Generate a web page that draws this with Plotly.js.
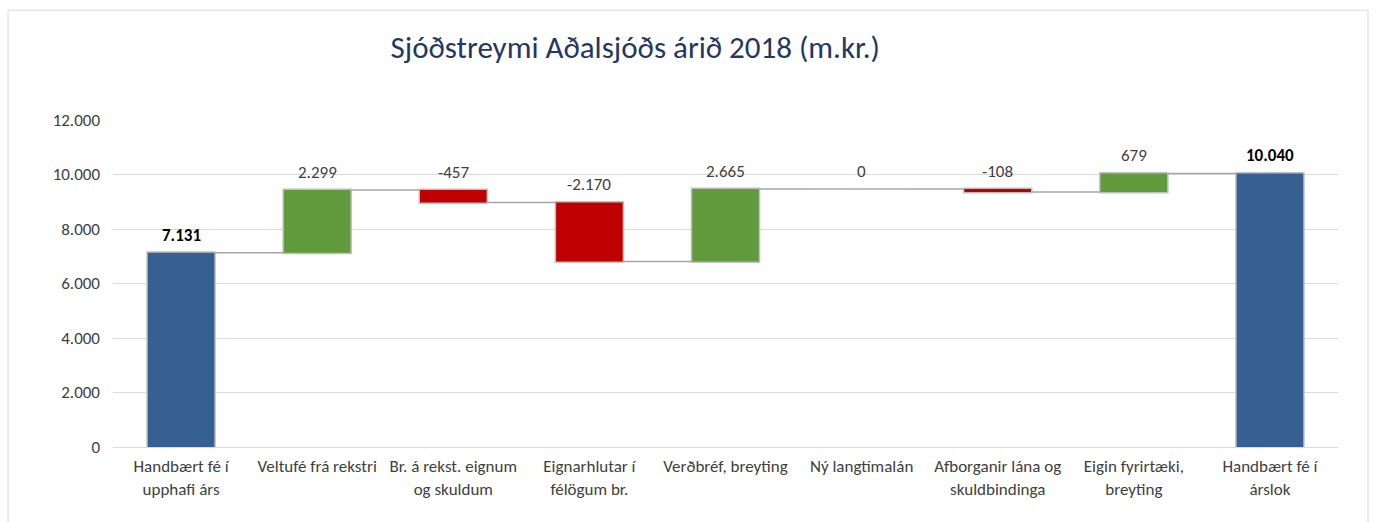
<!DOCTYPE html>
<html>
<head>
<meta charset="utf-8">
<script src="https://cdn.plot.ly/plotly-3.0.1.min.js"></script>
<style>html,body{margin:0;padding:0;background:#fff;}#chart{width:1375px;height:522px;}</style>
</head>
<body>
<div id="chart"></div>
<script>
var categories = [
  "Handbært fé í<br>upphafi árs",
  "Veltufé frá rekstri",
  "Br. á rekst. eignum<br>og skuldum",
  "Eignarhlutar í<br>félögum br.",
  "Verðbréf, breyting",
  "Ný langtímalán",
  "Afborganir lána og<br>skuldbindinga",
  "Eigin fyrirtæki,<br>breyting",
  "Handbært fé í<br>árslok"
];
var values = [7131, 2299, -457, -2170, 2665, 0, -108, 679, 10040];
var measures = ["absolute", "relative", "relative", "relative", "relative", "relative", "relative", "relative", "absolute"];
var valueLabels = ["7.131", "2.299", "-457", "-2.170", "2.665", "0", "-108", "679", "10.040"];
var boldLabel = [true, false, false, false, false, false, false, false, true];
var yTicks = [0, 2000, 4000, 6000, 8000, 10000, 12000];

var FONT = "Carlito, Calibri, 'Noto Sans', sans-serif";

// compute bar extents from the data for label placement
var tops = [];
var ends = [];
var running = 0;
for (var i = 0; i < values.length; i++) {
  var start, end;
  if (measures[i] === "absolute") { start = 0; end = values[i]; }
  else { start = running; end = running + values[i]; }
  running = end;
  tops.push(Math.max(start, end));
  ends.push(end);
}

// zero-change categories are drawn as a thin grey line like the reference
var zeroX = [], zeroY = [];
for (var k = 0; k < values.length; k++) {
  if (values[k] === 0 && measures[k] === "relative") { zeroX.push(categories[k]); zeroY.push(ends[k]); }
}

var annotations = categories.map(function (c, i) {
  return {
    x: c, y: tops[i], xref: "x", yref: "y",
    text: boldLabel[i] ? "<b>" + valueLabels[i] + "</b>" : valueLabels[i],
    showarrow: false, yanchor: "bottom", yshift: 5,
    font: {family: FONT, size: 17, color: boldLabel[i] ? "#000000" : "#404040"}
  };
});

var trace = {
  type: "waterfall",
  x: categories,
  y: values,
  measure: measures,
  textposition: "none",
  width: 0.5,
  connector: {mode: "between", line: {color: "#a6a6a6", width: 1.5}},
  increasing: {marker: {color: "#629a3e", line: {color: "#bfbfbf", width: 1.5}}},
  decreasing: {marker: {color: "#c00000", line: {color: "#bfbfbf", width: 1.5}}},
  totals: {marker: {color: "#366092", line: {color: "#bfbfbf", width: 1.5}}},
  hoverinfo: "x+y"
};

var zeroTrace = {
  type: "scatter", mode: "markers",
  x: zeroX, y: zeroY,
  marker: {symbol: "line-ew", size: 68, line: {color: "#bfbfbf", width: 2}},
  hoverinfo: "skip"
};

var layout = {
  width: 1375, height: 522,
  margin: {l: 113, r: 37, t: 120, b: 75},
  paper_bgcolor: "#ffffff", plot_bgcolor: "#ffffff",
  separators: ",.",
  showlegend: false,
  title: {
    text: "Sjóðstreymi Aðalsjóðs árið 2018 (m.kr.)",
    x: 0.462, xanchor: "center", y: 0.91, yanchor: "middle",
    font: {family: FONT, size: 31, color: "#1f3864"}
  },
  xaxis: {
    type: "category",
    showgrid: false, showline: true, linecolor: "#d9d9d9", linewidth: 1,
    ticks: "", tickfont: {family: FONT, size: 17, color: "#404040"},
    ticklabelstandoff: 4,
    zeroline: false, fixedrange: true
  },
  yaxis: {
    range: [0, 12000], tickvals: yTicks, tickformat: ",.0f",
    showgrid: true, gridcolor: "#d9d9d9", gridwidth: 1,
    zeroline: false, showline: false, ticks: "",
    tickfont: {family: FONT, size: 17, color: "#404040"},
    ticklabelstandoff: 12,
    automargin: false, fixedrange: true
  },
  annotations: annotations,
  shapes: [{
    type: "rect", xref: "paper", yref: "paper",
    x0: -0.0857, x1: 1.0245, y0: -0.4, y1: 1.336,
    line: {color: "#d9d9d9", width: 1}, fillcolor: "rgba(0,0,0,0)", layer: "below"
  }]
};

Plotly.newPlot("chart", [trace, zeroTrace], layout, {displayModeBar: false, staticPlot: true});
</script>
</body>
</html>
